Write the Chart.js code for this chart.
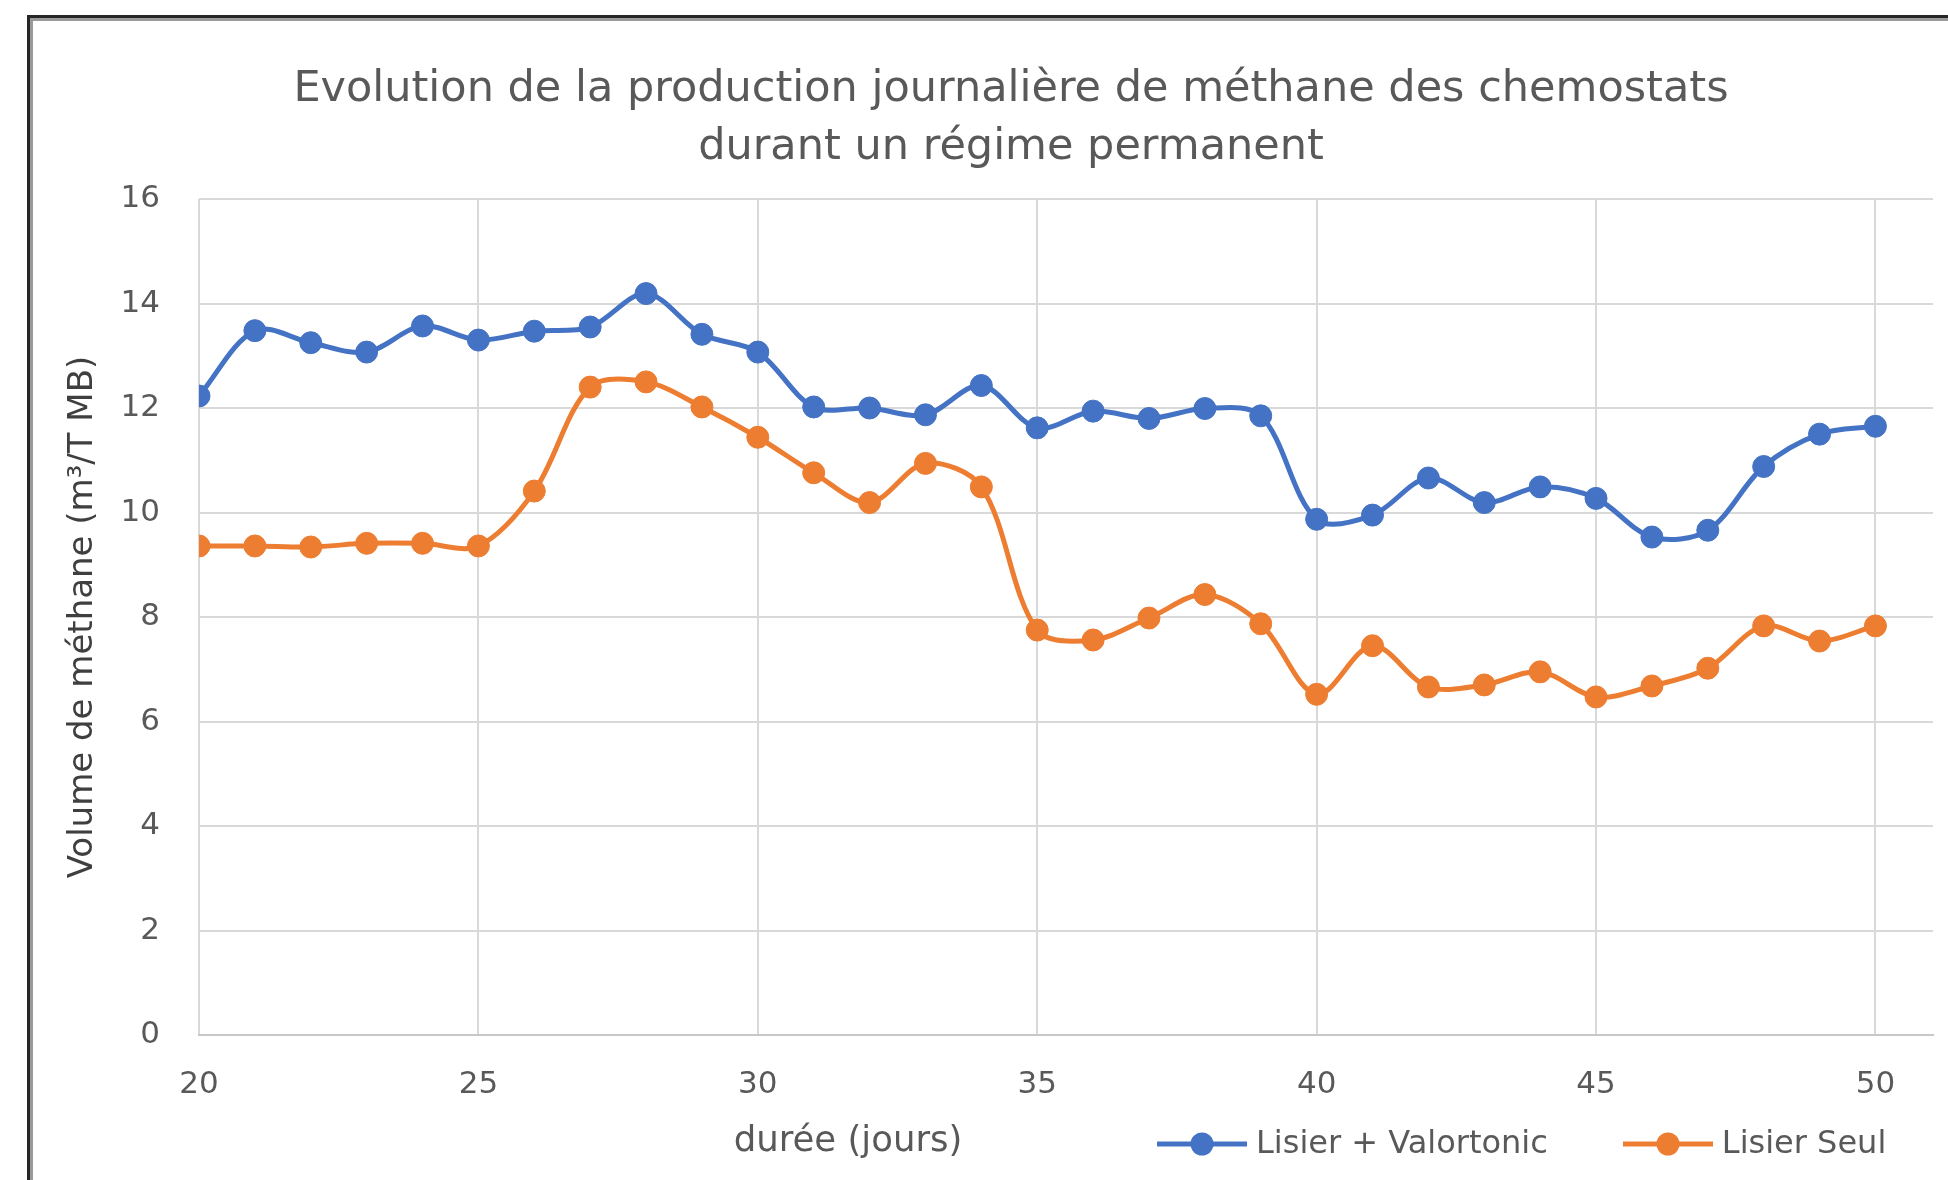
<!DOCTYPE html>
<html>
<head>
<meta charset="utf-8">
<script src="https://cdn.jsdelivr.net/npm/chart.js@4.4.1/dist/chart.umd.min.js"></script>
<style>
  html, body { margin: 0; padding: 0; background: #fff; overflow: hidden; }
  #wrap { position: relative; width: 1948px; height: 1180px; }
  #frame { position: absolute; left: 27px; top: 15px; width: 2000px; height: 1300px;
           border: 3px solid #262626; box-shadow: inset 0 0 0 3px #9a9a9a; }
  #chart { position: absolute; left: 0; top: 0; }
  #title { position: absolute; left: 0; top: 57px; width: 2022px; text-align: center;
           font: 43px "DejaVu Sans"; line-height: 58px; color: #595959; }
  #xtitle { position: absolute; left: 0; top: 1119px; width: 1696px; text-align: center;
            font: 35.5px "DejaVu Sans"; line-height: 40px; color: #595959; }
  #legend { position: absolute; left: 1156px; top: 1122px; white-space: nowrap;
            font: 32px "DejaVu Sans"; line-height: 40px; color: #595959; }
  #legend span.item + span.item { margin-left: 74px; }
  #legend canvas { vertical-align: middle; margin-right: 8px; }
</style>
</head>
<body>
<div id="wrap">
  <div id="frame"></div>
  <canvas id="chart" width="1948" height="1180"></canvas>
  <div id="title"></div>
  <div id="xtitle">durée (jours)</div>
  <div id="legend"></div>
</div>
<script>
// --- donnees --- //
const jours = [20, 21, 22, 23, 24, 25, 26, 27, 28, 29, 30, 31, 32, 33, 34, 35,
               36, 37, 38, 39, 40, 41, 42, 43, 44, 45, 46, 47, 48, 49, 50];
const lisierValortonic = [12.23, 13.48, 13.25, 13.07, 13.57, 13.30, 13.47, 13.55, 14.19, 13.41, 13.07,
                          12.02, 12.00, 11.87, 12.43, 11.62, 11.94, 11.80, 11.99, 11.85,
                          9.87, 9.95, 10.66, 10.19, 10.49, 10.27, 9.53, 9.66, 10.88, 11.50, 11.65];
const lisierSeul = [9.36, 9.36, 9.34, 9.41, 9.41, 9.36, 10.41, 12.40, 12.50, 12.02, 11.44,
                    10.76, 10.19, 10.94, 10.49, 7.75, 7.56, 7.98, 8.43, 7.87,
                    6.52, 7.45, 6.66, 6.70, 6.95, 6.47, 6.68, 7.02, 7.83, 7.54, 7.83];
const seriesNames = ["Lisier + Valortonic", "Lisier Seul"];
const titleLines = ["Evolution de la production journalière de méthane des chemostats",
                    "durant un régime permanent"];
const yTitle = "Volume de méthane (m³/T MB)";

const BLUE = "#4472C4", ORANGE = "#ED7D31", TEXT = "#595959", GRID = "#d9d9d9";

Chart.defaults.font.family = "'DejaVu Sans', sans-serif";

// titre sur deux lignes, centre sur le cadre complet du graphique
const titleEl = document.getElementById("title");
titleLines.forEach((t, i) => {
  if (i) titleEl.appendChild(document.createElement("br"));
  titleEl.appendChild(document.createTextNode(t));
});

// pictogramme ligne + rond (legende)
function legendIcon(color) {
  const c = document.createElement("canvas");
  c.width = 92; c.height = 26;
  const g = c.getContext("2d");
  g.strokeStyle = color; g.lineWidth = 5;
  g.beginPath(); g.moveTo(1, 13); g.lineTo(91, 13); g.stroke();
  g.fillStyle = color;
  g.beginPath(); g.arc(46, 13, 11.5, 0, Math.PI * 2); g.fill();
  return c;
}

function serie(values) {
  return jours.map((d, i) => ({x: d, y: values[i]}));
}

function dataset(label, values, color) {
  return {
    label, data: serie(values),
    borderColor: color, backgroundColor: color,
    borderWidth: 5, tension: 0.33,
    pointRadius: 11, pointHoverRadius: 11,
    pointBackgroundColor: color, pointBorderColor: color, pointBorderWidth: 1
  };
}

const chart = new Chart(document.getElementById("chart"), {
  type: "line",
  data: {
    datasets: [
      dataset(seriesNames[0], lisierValortonic, BLUE),
      dataset(seriesNames[1], lisierSeul, ORANGE)
    ]
  },
  options: {
    responsive: false,
    animation: false,
    layout: {padding: {left: 0, right: 15, top: 199, bottom: 0}},
    plugins: {
      title: {display: false},
      legend: {display: false},
      tooltip: {enabled: false}
    },
    scales: {
      x: {
        type: "linear", min: 20, max: 51.03,
        ticks: {stepSize: 5, includeBounds: false, color: TEXT, font: {size: 31, lineHeight: 1.2},
                padding: 31, maxRotation: 0},
        grid: {color: GRID, lineWidth: 2, drawTicks: false},
        border: {color: "#c8c8c8", width: 2},
        afterFit: s => { s.height = 145; }
      },
      y: {
        min: 0, max: 16,
        ticks: {stepSize: 2, color: TEXT, font: {size: 31}, padding: 39},
        grid: {color: GRID, lineWidth: 2, drawTicks: false},
        border: {display: false},
        title: {
          display: true, text: yTitle, color: "#3f3f3f",
          font: {size: 34, lineHeight: 1.2},
          padding: {top: 63, bottom: 0}
        },
        afterFit: s => { s.width = 199; }
      }
    }
  }
});

// legende HTML construite depuis les series
const legend = document.getElementById("legend");
chart.data.datasets.forEach(ds => {
  const item = document.createElement("span");
  item.className = "item";
  item.appendChild(legendIcon(ds.borderColor));
  item.appendChild(document.createTextNode(ds.label));
  legend.appendChild(item);
});
</script>
</body>
</html>
